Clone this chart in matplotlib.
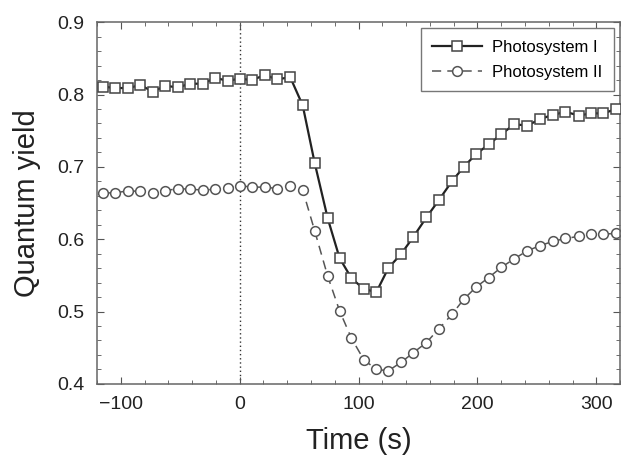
import matplotlib
matplotlib.use("Agg")
import matplotlib.pyplot as plt
from matplotlib.ticker import MultipleLocator

plt.rcParams['font.family'] = ['Liberation Sans', 'DejaVu Sans']

time_s = [-115, -104.5, -94, -83.5, -73, -62.5, -52, -41.5, -31, -20.5, -10, 0,
          10.5, 21, 31.5, 42.5, 53, 63, 74, 84, 94, 104.5, 115, 125, 136, 146,
          157, 167.5, 178.5, 188.5, 199, 209.5, 220, 231, 242, 252.5, 263.5,
          274, 285.5, 295.5, 306, 316.5]

psi = [0.811, 0.809, 0.809, 0.813, 0.804, 0.812, 0.810, 0.815, 0.815, 0.823,
       0.819, 0.822, 0.820, 0.827, 0.821, 0.824, 0.785, 0.706, 0.629, 0.574,
       0.546, 0.531, 0.527, 0.560, 0.580, 0.603, 0.630, 0.654, 0.680, 0.700,
       0.718, 0.731, 0.745, 0.759, 0.757, 0.766, 0.772, 0.776, 0.771, 0.774,
       0.774, 0.780]

psii = [0.664, 0.664, 0.667, 0.666, 0.664, 0.667, 0.670, 0.669, 0.668, 0.669,
        0.671, 0.674, 0.672, 0.672, 0.670, 0.673, 0.668, 0.612, 0.549, 0.501,
        0.463, 0.433, 0.420, 0.418, 0.430, 0.443, 0.457, 0.476, 0.496, 0.517,
        0.534, 0.547, 0.561, 0.573, 0.584, 0.591, 0.597, 0.601, 0.604, 0.607,
        0.607, 0.608]

fig = plt.figure(figsize=(6.22, 4.63), dpi=100)
ax = fig.add_axes([0.156, 0.171, 0.841, 0.781])

ax.axvline(0, color='#333333', linestyle=(0, (1, 2)), linewidth=1, zorder=1)

ax.plot(time_s, psi, color='#222222', linewidth=1.6, marker='s', markersize=6.5,
        markerfacecolor='white', markeredgecolor='#444444', markeredgewidth=1.1,
        label='Photosystem I', zorder=3)
ax.plot(time_s, psii, color='#555555', linewidth=1.1, linestyle=(0, (6, 4)),
        marker='o', markersize=7, markerfacecolor='white',
        markeredgecolor='#555555', markeredgewidth=1.1,
        label='Photosystem II', zorder=2)

ax.set_xlim(-120, 320)
ax.set_ylim(0.4, 0.9)
ax.set_xticks([-100, 0, 100, 200, 300])
ax.set_yticks([0.4, 0.5, 0.6, 0.7, 0.8, 0.9])
ax.set_xticklabels(['\u2212100', '0', '100', '200', '300'])
ax.xaxis.set_minor_locator(MultipleLocator(20))
ax.yaxis.set_minor_locator(MultipleLocator(0.02))
ax.tick_params(which='both', direction='in', top=True, right=True,
               colors='#555555', labelcolor='#222222', labelsize=14)
ax.tick_params(which='major', length=5, pad=9)
ax.tick_params(which='minor', length=3)
for s in ax.spines.values():
    s.set_color('#666666')
    s.set_linewidth(1.1)

ax.set_xlabel('Time (s)', fontsize=21, color='#222222', labelpad=10)
ax.set_ylabel('Quantum yield', fontsize=21, color='#222222', labelpad=12)

leg = ax.legend(loc='upper right', fontsize=12, fancybox=False,
                edgecolor='#777777', handlelength=3.0, borderaxespad=0.35,
                framealpha=1, borderpad=0.7, labelspacing=0.6,
                handletextpad=0.6)
leg.get_frame().set_linewidth(1.0)

fig.savefig('out.png', dpi=100)
